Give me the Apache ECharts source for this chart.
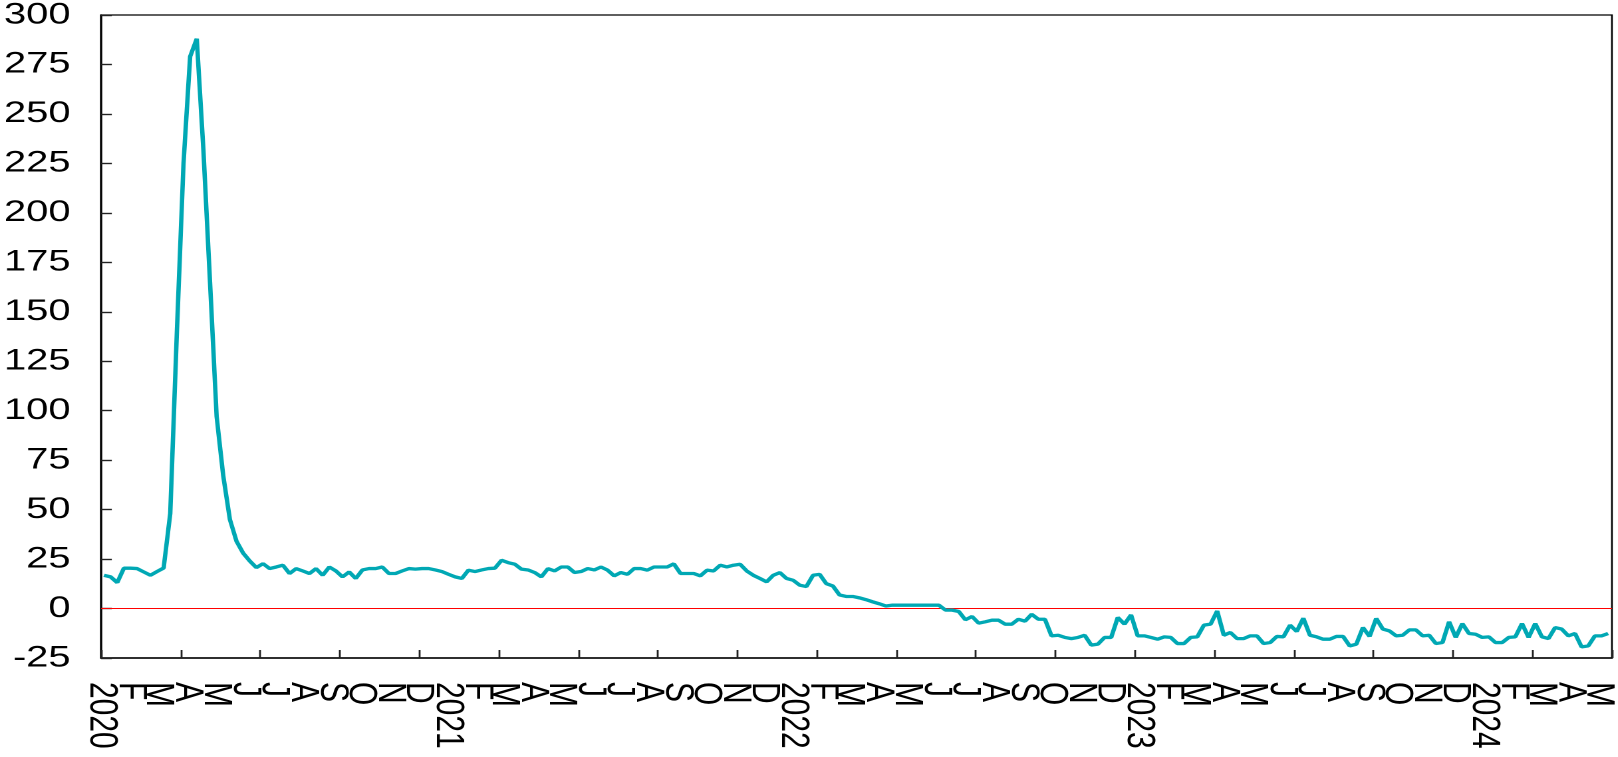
<!DOCTYPE html>
<html>
<head>
<meta charset="utf-8">
<script src="https://cdn.jsdelivr.net/npm/echarts@6/dist/echarts.min.js"></script>
<style>
  html, body { margin: 0; padding: 0; background: #fff; overflow: hidden; }
  /* the reference text is drawn wide, so the chart is laid out narrow and stretched */
  #chart { width: 1217px; height: 757px; transform: scaleX(1.33); transform-origin: 0 0; }
</style>
</head>
<body>
<div id="chart"></div>
<script>
// weekly values, first week ending 4 Jan 2020
const firstWeekDay = 3; // days after 1 Jan 2020
const weeklyValues = [
  16.8, 16.0, 13.1, 20.4, 20.4, 20.2, 18.5, 16.8, 18.7, 20.5,
  48, 140, 225, 279, 288, 232, 165, 97, 67, 45,
  34, 28, 24, 20.7, 22.7, 20.2, 21, 21.9, 17.7, 20.2,
  19, 17.7, 20.2, 16.8, 21, 19, 16, 18.5, 15.2, 19.5,
  20.2, 20.2, 21, 17.7, 17.7, 19, 20.2, 19.9, 20.2, 20.2,
  19.5, 18.7, 17.3, 16, 15.2, 19.4, 18.7, 19.5, 20.2, 20.4,
  24.4, 23.2, 22.4, 19.9, 19.5, 18.2, 16, 20.2, 19, 21,
  21, 18.2, 18.7, 20.2, 19.5, 21, 19.4, 16.5, 18.2, 17.3,
  20.2, 20.2, 19.4, 21, 21, 21, 22.6, 17.7, 17.7, 17.7,
  16.5, 19.4, 19, 21.9, 21, 21.9, 22.4, 19, 16.8, 15.2,
  13.5, 16.8, 18.2, 15.2, 14.3, 11.8, 11.1, 16.8, 17.3, 12.6,
  11.4, 6.9, 6.1, 6.1, 5.4, 4.5, 3.4, 2.4, 1.3, 1.7,
  1.7, 1.7, 1.7, 1.7, 1.7, 1.7, 1.7, -0.8, -0.8, -1.5,
  -5.7, -4, -7.4, -6.7, -5.9, -5.9, -7.9, -7.9, -5.4, -6.4,
  -2.9, -5.4, -5.4, -13.8, -13.5, -14.6, -15.2, -14.6, -13.5, -18.5,
  -18, -14.6, -14.6, -4.5, -7.9, -3.2, -13.8, -13.8, -14.6, -15.5,
  -14.3, -14.6, -17.7, -17.7, -14.6, -14.3, -8.4, -7.9, -1.2, -13.5,
  -12.1, -15.2, -15.2, -13.8, -13.8, -17.7, -17.2, -14.1, -14.3, -8.4,
  -11.6, -4.9, -13.5, -14.3, -15.5, -15.5, -14.1, -14.1, -18.9, -18,
  -9.6, -14.1, -5, -10.4, -11.3, -13.8, -13.5, -10.8, -10.8, -13.8,
  -13.5, -17.7, -17.2, -6.7, -14.6, -7.6, -12.6, -13, -14.6, -14.3,
  -17.2, -17.2, -14.6, -14.3, -7.6, -14.6, -7.6, -14.3, -15.2, -9.6,
  -10.4, -13.8, -12.6, -19.4, -18.9, -13.8, -13.8, -12.6
];

// month tick labels, Jan 2020 .. May 2024
const monthLabels = [
  '2020', 'F', 'M', 'A', 'M', 'J', 'J', 'A', 'S', 'O', 'N', 'D',
  '2021', 'F', 'M', 'A', 'M', 'J', 'J', 'A', 'S', 'O', 'N', 'D',
  '2022', 'F', 'M', 'A', 'M', 'J', 'J', 'A', 'S', 'O', 'N', 'D',
  '2023', 'F', 'M', 'A', 'M', 'J', 'J', 'A', 'S', 'O', 'N', 'D',
  '2024', 'F', 'M', 'A', 'M'
];

const yTicks = [-25, 300, 25]; // min, max, step
const xRange = [0, 1596, 84];  // days: min, max, tick step (12 weeks)

const DAY = 86400000;
const origin = Date.UTC(2020, 0, 1);
const monthDays = monthLabels.map((_, m) => (Date.UTC(2020, m, 1) - origin) / DAY);
const labelByDay = {};
monthDays.forEach((d, i) => { labelByDay[d] = monthLabels[i]; });

const tickDays = [];
for (let d = xRange[0]; d <= xRange[1]; d += xRange[2]) tickDays.push(d);

const seriesData = weeklyValues.map((v, i) => [firstWeekDay + 7 * i, v]);

const font = "'Liberation Sans', Arial, sans-serif";

// month starts sit closer together than the rotated glyph height, so
// ECharts would drop some; spread them over two stacked bottom axes
const labelAxis = (days, main) => ({
  type: 'value',
  position: 'bottom',
  min: xRange[0],
  max: xRange[1],
  interval: xRange[2],
  axisLine: { show: main, onZero: false, lineStyle: { color: '#000', width: 1.6 } },
  axisTick: {
    show: main,
    inside: true,
    length: 8,
    customValues: tickDays,
    lineStyle: { color: '#222', width: 1.4 }
  },
  axisLabel: {
    show: true,
    rotate: -90,
    margin: 24,
    customValues: days,
    showMinLabel: true,
    showMaxLabel: true,
    hideOverlap: false,
    formatter: v => labelByDay[v] || '',
    color: '#000',
    fontFamily: font,
    fontSize: 30
  },
  splitLine: { show: false }
});

const chart = echarts.init(document.getElementById('chart'), null, { devicePixelRatio: 2 });

chart.setOption({
  animation: false,
  backgroundColor: '#fff',
  grid: {
    left: 76,
    right: 1,
    top: 14,
    bottom: 99,
    show: true,
    borderColor: '#000',
    borderWidth: 1.3,
    containLabel: false
  },
  xAxis: [
    labelAxis(monthDays.filter((_, i) => i % 2 === 0), true),
    labelAxis(monthDays.filter((_, i) => i % 2 === 1), false)
  ],
  yAxis: {
    type: 'value',
    min: yTicks[0],
    max: yTicks[1],
    interval: yTicks[2],
    axisLine: { show: true, onZero: false, lineStyle: { color: '#000', width: 1.6 } },
    axisTick: { show: true, inside: true, length: 8, lineStyle: { color: '#222', width: 1.4 } },
    axisLabel: {
      margin: 23,
      showMinLabel: true,
      showMaxLabel: true,
      color: '#000',
      fontFamily: font,
      fontSize: 30
    },
    splitLine: { show: false }
  },
  series: [
    {
      type: 'line',
      xAxisIndex: 0,
      data: seriesData,
      showSymbol: false,
      symbol: 'none',
      lineStyle: { color: '#00A8B4', width: 3.3 },
      z: 3,
      markLine: {
        silent: true,
        symbol: 'none',
        label: { show: false },
        lineStyle: { color: '#ff0000', width: 1, type: 'solid' },
        data: [{ yAxis: 0 }],
        z: 2
      }
    }
  ]
});
</script>
</body>
</html>
